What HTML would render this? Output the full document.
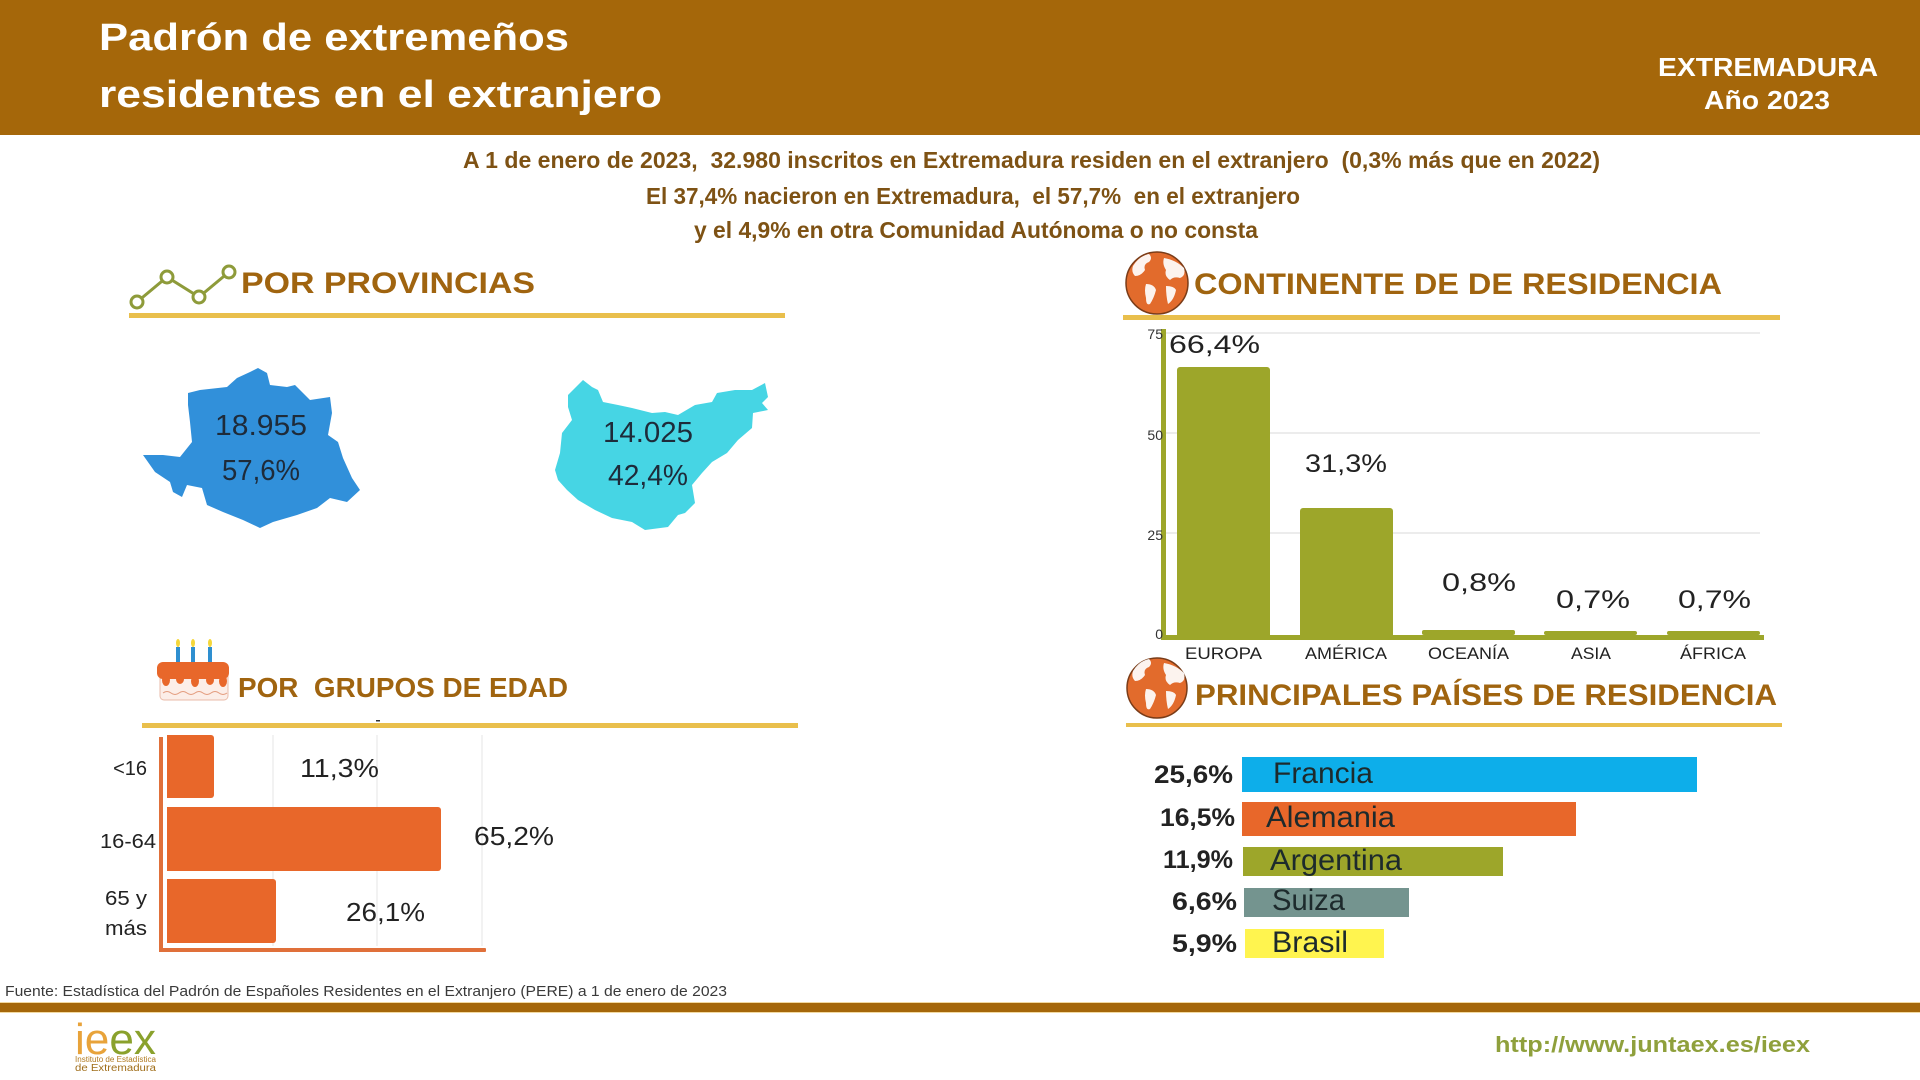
<!DOCTYPE html>
<html><head><meta charset="utf-8"><style>
html,body{margin:0;padding:0;background:#fff;}
svg{display:block;}
text{font-family:"Liberation Sans",sans-serif;}
</style></head><body>
<svg width="1920" height="1080" viewBox="0 0 1920 1080" xmlns="http://www.w3.org/2000/svg">
<rect width="1920" height="1080" fill="#fff"/>
<!-- header -->
<rect x="0" y="0" width="1920" height="135" fill="#A5670A"/>
<text x="99" y="50" font-size="38" font-weight="bold" fill="#fff" textLength="470" lengthAdjust="spacingAndGlyphs">Padrón de extremeños</text>
<text x="99" y="107" font-size="38" font-weight="bold" fill="#fff" textLength="563" lengthAdjust="spacingAndGlyphs">residentes en el extranjero</text>
<text x="1658" y="76" font-size="26" font-weight="bold" fill="#fff" textLength="220" lengthAdjust="spacingAndGlyphs">EXTREMADURA</text>
<text x="1704" y="109" font-size="26" font-weight="bold" fill="#fff" textLength="126" lengthAdjust="spacingAndGlyphs">Año 2023</text>

<!-- subtitle -->
<g fill="#7E5214" font-size="23" font-weight="bold">
<text x="463" y="168" textLength="1137" lengthAdjust="spacingAndGlyphs">A 1 de enero de 2023,&#160; 32.980 inscritos en Extremadura residen en el extranjero&#160; (0,3% más que en 2022)</text>
<text x="646" y="204" textLength="654" lengthAdjust="spacingAndGlyphs">El 37,4% nacieron en Extremadura,&#160; el 57,7%&#160; en el extranjero</text>
<text x="694" y="238" textLength="564" lengthAdjust="spacingAndGlyphs">y el 4,9% en otra Comunidad Autónoma o no consta</text>
</g>

<!-- section headings -->
<g fill="#A0640F" font-weight="bold" font-size="30">
<text x="241" y="293" textLength="294" lengthAdjust="spacingAndGlyphs">POR PROVINCIAS</text>
<text x="1194" y="294" textLength="528" lengthAdjust="spacingAndGlyphs">CONTINENTE DE DE RESIDENCIA</text>
<text x="1195" y="705" textLength="582" lengthAdjust="spacingAndGlyphs">PRINCIPALES PAÍSES DE RESIDENCIA</text>
<text x="238" y="697" font-size="28" textLength="330" lengthAdjust="spacingAndGlyphs">POR&#160; GRUPOS DE EDAD</text>
</g>
<g fill="#E9BF4C">
<rect x="129" y="313" width="656" height="5"/>
<rect x="142" y="723" width="656" height="5"/>
<rect x="1123" y="315" width="657" height="5"/>
<rect x="1126" y="723" width="656" height="4"/>
</g>
<rect x="376" y="720" width="4" height="1.5" fill="#333"/>

<!-- line icon -->
<g stroke="#8E9B3A" stroke-width="3" fill="#fff">
<polyline points="137,302 167,277 199,297 229,272" fill="none"/>
<circle cx="137" cy="302" r="6"/>
<circle cx="167" cy="277" r="6"/>
<circle cx="199" cy="297" r="6"/>
<circle cx="229" cy="272" r="6"/>
</g>

<!-- maps -->
<polygon fill="#3190DA" points="188,393 200,390 227,387 237,378 250,372 258,368 267,373 270,385 287,387 295,385 310,400 330,397 332,413 328,435 338,442 343,458 352,478 360,490 347,502 330,498 317,508 297,515 273,522 260,528 243,520 223,512 207,505 202,488 187,485 182,497 173,492 170,482 155,472 143,455 163,455 180,457 192,442 190,422 188,405"/>
<polygon fill="#46D5E4" points="568,395 578,385 583,380 592,387 598,390 603,402 618,405 632,408 652,413 665,412 678,415 695,405 712,402 717,393 735,390 752,390 765,383 768,397 762,403 768,410 753,413 752,428 738,440 727,453 712,462 702,473 692,485 695,503 685,513 678,515 668,527 645,530 632,522 612,518 595,510 578,500 567,490 558,480 555,470 560,453 562,433 572,420 568,407"/>
<g fill="#1E2B3A" font-size="29" text-anchor="middle">
<text x="261" y="435" textLength="92" lengthAdjust="spacingAndGlyphs">18.955</text>
<text x="261" y="480" textLength="78" lengthAdjust="spacingAndGlyphs">57,6%</text>
<text x="648" y="442" textLength="90" lengthAdjust="spacingAndGlyphs">14.025</text>
<text x="648" y="485" textLength="80" lengthAdjust="spacingAndGlyphs">42,4%</text>
</g>

<!-- cake icon -->
<g>
<rect x="176" y="647" width="4" height="16" fill="#2E8FD0"/>
<rect x="191" y="647" width="4" height="16" fill="#2E8FD0"/>
<rect x="208" y="647" width="4" height="16" fill="#2E8FD0"/>
<ellipse cx="178" cy="643" rx="2" ry="4" fill="#F4D63A"/>
<ellipse cx="193" cy="643" rx="2" ry="4" fill="#F4D63A"/>
<ellipse cx="210" cy="643" rx="2" ry="4" fill="#F4D63A"/>
<rect x="160" y="672" width="68" height="28" rx="4" fill="#FCEEE8" stroke="#E9BBA8" stroke-width="1"/>
<path d="M163,693 q4,-3 8,0 t8,0 t8,0 t8,0 t8,0 t8,0 t8,0 t8,0" fill="none" stroke="#E39B7C" stroke-width="1"/>
<rect x="157" y="662" width="72" height="17" rx="6" fill="#E8672A"/>
<ellipse cx="166" cy="680" rx="4" ry="6" fill="#E8672A"/>
<ellipse cx="180" cy="679" rx="4" ry="5" fill="#E8672A"/>
<ellipse cx="195" cy="681" rx="4" ry="6" fill="#E8672A"/>
<ellipse cx="210" cy="680" rx="4" ry="5" fill="#E8672A"/>
<ellipse cx="223" cy="681" rx="4" ry="6" fill="#E8672A"/>
</g>

<!-- age chart -->
<g stroke="#E6E6E6" stroke-width="1">
<line x1="273" y1="735" x2="273" y2="946"/>
<line x1="377" y1="735" x2="377" y2="946"/>
<line x1="482" y1="735" x2="482" y2="946"/>
</g>
<rect x="159" y="737" width="4" height="215" fill="#E0703A"/>
<rect x="159" y="948" width="327" height="4" fill="#E0703A" rx="1"/>
<g fill="#E8672A">
<path d="M167,735 h44 a3,3 0 0 1 3,3 v57 a3,3 0 0 1 -3,3 h-44 z"/>
<path d="M167,807 h271 a3,3 0 0 1 3,3 v58 a3,3 0 0 1 -3,3 h-271 z"/>
<path d="M167,879 h106 a3,3 0 0 1 3,3 v58 a3,3 0 0 1 -3,3 h-106 z"/>
</g>
<g fill="#222" font-size="20">
<text x="147" y="775" text-anchor="end">&lt;16</text>
<text x="100" y="848" textLength="56" lengthAdjust="spacingAndGlyphs">16-64</text>
<text x="105" y="905" textLength="42" lengthAdjust="spacingAndGlyphs">65 y</text>
<text x="105" y="935" textLength="42" lengthAdjust="spacingAndGlyphs">más</text>
</g>
<g fill="#222" font-size="26">
<text x="300" y="777" textLength="79" lengthAdjust="spacingAndGlyphs">11,3%</text>
<text x="474" y="845" textLength="80" lengthAdjust="spacingAndGlyphs">65,2%</text>
<text x="346" y="921" textLength="79" lengthAdjust="spacingAndGlyphs">26,1%</text>
</g>

<!-- globe icons -->
<g>
<circle cx="1157" cy="283" r="31" fill="#E26B2C" stroke="#7A3C18" stroke-width="1.5"/>
<g fill="#fff" opacity="0.92">
<path d="M1133,266 q6,-10 16,-12 q4,4 0,8 q-6,2 -4,8 q-4,6 -10,6 q-4,-4 -2,-10z"/>
<path d="M1146,284 q8,0 10,6 q-2,8 -6,14 q-4,2 -4,-6 q-2,-8 0,-14z"/>
<path d="M1164,258 q12,2 20,10 q2,8 -4,10 q-6,-2 -10,2 q-6,-4 -4,-10 q-4,-6 -2,-12z"/>
<path d="M1166,286 q8,0 10,4 q-2,10 -8,14 q-2,-8 -2,-18z"/>
</g>
</g>
<g>
<circle cx="1157" cy="688" r="30" fill="#E26B2C" stroke="#7A3C18" stroke-width="1.5"/>
<g fill="#fff" opacity="0.92">
<path d="M1133,671 q6,-10 16,-12 q4,4 0,8 q-6,2 -4,8 q-4,6 -10,6 q-4,-4 -2,-10z"/>
<path d="M1146,689 q8,0 10,6 q-2,8 -6,14 q-4,2 -4,-6 q-2,-8 0,-14z"/>
<path d="M1164,663 q12,2 20,10 q2,8 -4,10 q-6,-2 -10,2 q-6,-4 -4,-10 q-4,-6 -2,-12z"/>
<path d="M1166,691 q8,0 10,4 q-2,10 -8,14 q-2,-8 -2,-18z"/>
</g>
</g>

<!-- continent chart -->
<g stroke="#D8D8D8" stroke-width="1">
<line x1="1166" y1="333" x2="1760" y2="333"/>
<line x1="1166" y1="433" x2="1760" y2="433"/>
<line x1="1166" y1="533" x2="1760" y2="533"/>
</g>
<g fill="#9DA62A">
<path d="M1177,635 v-265 a3,3 0 0 1 3,-3 h87 a3,3 0 0 1 3,3 v265 z"/>
<path d="M1300,635 v-124 a3,3 0 0 1 3,-3 h87 a3,3 0 0 1 3,3 v124 z"/>
<rect x="1422" y="630" width="93" height="5" rx="2"/>
<rect x="1544" y="631" width="93" height="4" rx="2"/>
<rect x="1667" y="631" width="93" height="4" rx="2"/>
</g>
<rect x="1161" y="329" width="5" height="311" fill="#9DA62A"/>
<rect x="1161" y="635" width="603" height="5" fill="#9DA62A"/>
<g fill="#333" font-size="14" text-anchor="end">
<text x="1163" y="339">75</text>
<text x="1163" y="440">50</text>
<text x="1163" y="540">25</text>
<text x="1163" y="639">0</text>
</g>
<g fill="#222" font-size="25">
<text x="1169" y="353" textLength="91" lengthAdjust="spacingAndGlyphs">66,4%</text>
<text x="1305" y="472" textLength="82" lengthAdjust="spacingAndGlyphs">31,3%</text>
<text x="1442" y="591" textLength="74" lengthAdjust="spacingAndGlyphs">0,8%</text>
<text x="1556" y="608" textLength="74" lengthAdjust="spacingAndGlyphs">0,7%</text>
<text x="1678" y="608" textLength="73" lengthAdjust="spacingAndGlyphs">0,7%</text>
</g>
<g fill="#222" font-size="17">
<text x="1185" y="659" textLength="77" lengthAdjust="spacingAndGlyphs">EUROPA</text>
<text x="1305" y="659" textLength="82" lengthAdjust="spacingAndGlyphs">AMÉRICA</text>
<text x="1428" y="659" textLength="81" lengthAdjust="spacingAndGlyphs">OCEANÍA</text>
<text x="1571" y="659" textLength="40" lengthAdjust="spacingAndGlyphs">ASIA</text>
<text x="1680" y="659" textLength="66" lengthAdjust="spacingAndGlyphs">ÁFRICA</text>
</g>

<!-- countries -->
<rect x="1242" y="757" width="455" height="35" fill="#0DAEEA"/>
<rect x="1242" y="802" width="334" height="34" fill="#E8672A"/>
<rect x="1243" y="847" width="260" height="29" fill="#9DA62A"/>
<rect x="1244" y="888" width="165" height="29" fill="#74948F"/>
<rect x="1245" y="929" width="139" height="29" fill="#FFF44F"/>
<g fill="#1D2A2C" font-size="30">
<text x="1273" y="783" textLength="100" lengthAdjust="spacingAndGlyphs">Francia</text>
<text x="1266" y="827" textLength="129" lengthAdjust="spacingAndGlyphs">Alemania</text>
<text x="1270" y="870" textLength="132" lengthAdjust="spacingAndGlyphs">Argentina</text>
<text x="1272" y="910" textLength="73" lengthAdjust="spacingAndGlyphs">Suiza</text>
<text x="1272" y="952" textLength="76" lengthAdjust="spacingAndGlyphs">Brasil</text>
</g>
<g fill="#222" font-size="25" font-weight="bold">
<text x="1154" y="783" textLength="79" lengthAdjust="spacingAndGlyphs">25,6%</text>
<text x="1160" y="826" textLength="75" lengthAdjust="spacingAndGlyphs">16,5%</text>
<text x="1163" y="868" textLength="70" lengthAdjust="spacingAndGlyphs">11,9%</text>
<text x="1172" y="910" textLength="65" lengthAdjust="spacingAndGlyphs">6,6%</text>
<text x="1172" y="952" textLength="65" lengthAdjust="spacingAndGlyphs">5,9%</text>
</g>

<!-- footer -->
<text x="5" y="996" font-size="15" fill="#3a3a3a" textLength="722" lengthAdjust="spacingAndGlyphs">Fuente: Estadística del Padrón de Españoles Residentes en el Extranjero (PERE) a 1 de enero de 2023</text>
<rect x="0" y="1002" width="1920" height="1" fill="#F2D9A0"/>
<rect x="0" y="1003" width="1920" height="9" fill="#A5670A"/>
<rect x="0" y="1012" width="1920" height="1" fill="#F2D9A0"/>
<text x="75" y="1054" font-size="44" textLength="81" lengthAdjust="spacingAndGlyphs"><tspan fill="#E8A33A">ie</tspan><tspan fill="#8AA12C">ex</tspan></text>
<text x="75" y="1062" font-size="8" fill="#B07A20" textLength="81" lengthAdjust="spacingAndGlyphs">Instituto de Estadística</text>
<text x="75" y="1071" font-size="10" fill="#A06E1A" textLength="81" lengthAdjust="spacingAndGlyphs">de Extremadura</text>
<text x="1495" y="1052" font-size="22" font-weight="bold" fill="#8FA03C" textLength="315" lengthAdjust="spacingAndGlyphs">http://www.juntaex.es/ieex</text>
</svg>
</body></html>
